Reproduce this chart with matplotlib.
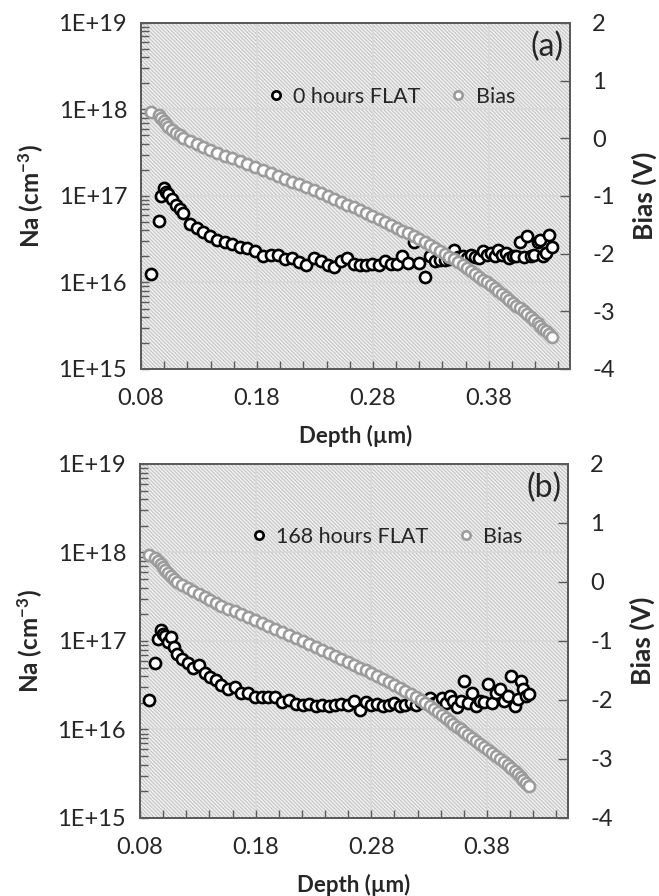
import matplotlib
matplotlib.use('Agg')
import matplotlib.pyplot as plt
from matplotlib.patches import Rectangle
from matplotlib.lines import Line2D
from matplotlib.ticker import MultipleLocator, LogLocator, NullFormatter

plt.rcParams['font.family'] = ['Lato', 'DejaVu Sans']
plt.rcParams['mathtext.fontset'] = 'custom'
plt.rcParams['mathtext.rm'] = 'Lato:bold'
plt.rcParams['mathtext.default'] = 'rm'
plt.rcParams['hatch.linewidth'] = 0.75

# bias steps (V), same sweep for both samples
bias_v = [0.45, 0.40, 0.35, 0.30, 0.25, 0.20, 0.15, 0.10, 0.05, 0.00,
          -0.05, -0.10, -0.15, -0.20, -0.25, -0.30, -0.35, -0.40, -0.45, -0.50,
          -0.55, -0.60, -0.65, -0.70, -0.75, -0.80, -0.85, -0.90, -0.95, -1.00,
          -1.05, -1.10, -1.15, -1.20, -1.25, -1.30, -1.35, -1.40, -1.45, -1.50,
          -1.55, -1.60, -1.65, -1.70, -1.75, -1.80, -1.85, -1.90, -1.95, -2.00,
          -2.05, -2.10, -2.15, -2.20, -2.25, -2.30, -2.35, -2.40, -2.45, -2.50,
          -2.55, -2.60, -2.65, -2.70, -2.75, -2.80, -2.85, -2.90, -2.95, -3.00,
          -3.05, -3.10, -3.15, -3.20, -3.25, -3.30, -3.35, -3.40, -3.45]

# (a) 0 hours
depth_a = [0.0890, 0.0958, 0.0972, 0.1000, 0.1018, 0.1033, 0.1066, 0.1099, 0.1132, 0.1165,
           0.1223, 0.1280, 0.1338, 0.1395, 0.1459, 0.1523, 0.1586, 0.1650, 0.1718, 0.1785,
           0.1853, 0.1920, 0.1981, 0.2043, 0.2104, 0.2165, 0.2226, 0.2288, 0.2349, 0.2410,
           0.2466, 0.2523, 0.2579, 0.2635, 0.2689, 0.2743, 0.2796, 0.2850, 0.2901, 0.2953,
           0.3004, 0.3055, 0.3104, 0.3153, 0.3201, 0.3250, 0.3293, 0.3335, 0.3378, 0.3420,
           0.3459, 0.3498, 0.3536, 0.3575, 0.3610, 0.3645, 0.3680, 0.3715, 0.3749, 0.3783,
           0.3816, 0.3850, 0.3881, 0.3913, 0.3944, 0.3975, 0.4006, 0.4038, 0.4069, 0.4100,
           0.4130, 0.4160, 0.4190, 0.4220, 0.4245, 0.4270, 0.4295, 0.4320, 0.4345]
na_a = [1.26e16, 5.1e16, 9.9e16, 1.23e17, 1.10e17, 1.05e17, 9.3e16, 7.8e16, 7.0e16, 6.3e16,
        4.8e16, 4.3e16, 3.8e16, 3.4e16, 3.1e16, 2.9e16, 2.75e16, 2.6e16, 2.5e16, 2.3e16,
        2.0e16, 2.1e16, 2.05e16, 1.86e16, 1.9e16, 1.74e16, 1.6e16, 1.9e16, 1.75e16, 1.6e16,
        1.5e16, 1.75e16, 1.9e16, 1.65e16, 1.6e16, 1.6e16, 1.62e16, 1.6e16, 1.75e16, 1.65e16,
        1.62e16, 2.0e16, 1.7e16, 2.95e16, 1.7e16, 1.17e16, 2.0e16, 1.75e16, 1.8e16, 1.8e16,
        1.85e16, 2.4e16, 1.95e16, 2.0e16, 1.9e16, 2.1e16, 1.95e16, 1.9e16, 2.3e16, 2.05e16,
        2.2e16, 2.0e16, 2.4e16, 2.05e16, 2.2e16, 1.9e16, 2.0e16, 2.0e16, 2.95e16, 1.95e16,
        3.4e16, 2.0e16, 2.1e16, 2.95e16, 3.1e16, 2.0e16, 2.2e16, 3.55e16, 2.6e16]

# (b) 168 hours
depth_b = [0.0880, 0.0930, 0.0958, 0.0985, 0.1000, 0.1015, 0.1041, 0.1067, 0.1092, 0.1118,
           0.1166, 0.1214, 0.1262, 0.1310, 0.1358, 0.1405, 0.1453, 0.1500, 0.1559, 0.1618,
           0.1676, 0.1735, 0.1794, 0.1853, 0.1911, 0.1970, 0.2029, 0.2088, 0.2146, 0.2205,
           0.2261, 0.2318, 0.2374, 0.2430, 0.2485, 0.2540, 0.2595, 0.2650, 0.2700, 0.2750,
           0.2800, 0.2850, 0.2900, 0.2950, 0.3000, 0.3050, 0.3095, 0.3140, 0.3185, 0.3230,
           0.3268, 0.3305, 0.3343, 0.3380, 0.3413, 0.3445, 0.3478, 0.3510, 0.3541, 0.3573,
           0.3604, 0.3635, 0.3669, 0.3703, 0.3736, 0.3770, 0.3805, 0.3840, 0.3875, 0.3910,
           0.3944, 0.3978, 0.4011, 0.4045, 0.4068, 0.4091, 0.4114, 0.4137, 0.4160]
na_b = [2.14e16, 5.6e16, 1.06e17, 1.32e17, 1.2e17, 1.15e17, 9.8e16, 1.1e17, 8.5e16, 7.2e16,
        6.3e16, 5.6e16, 4.9e16, 5.3e16, 4.3e16, 3.9e16, 3.6e16, 3.2e16, 2.9e16, 3.0e16,
        2.6e16, 2.55e16, 2.35e16, 2.3e16, 2.3e16, 2.35e16, 2.05e16, 2.14e16, 1.95e16, 1.9e16,
        1.95e16, 1.85e16, 1.9e16, 1.85e16, 1.9e16, 1.95e16, 1.9e16, 2.1e16, 1.66e16, 2.05e16,
        1.9e16, 1.95e16, 1.85e16, 1.9e16, 2.0e16, 1.85e16, 1.9e16, 2.0e16, 1.9e16, 2.05e16,
        2.0e16, 2.25e16, 2.0e16, 2.1e16, 2.25e16, 2.0e16, 2.4e16, 2.1e16, 1.8e16, 2.1e16,
        3.5e16, 2.0e16, 2.6e16, 1.86e16, 2.1e16, 2.05e16, 3.3e16, 2.0e16, 2.6e16, 2.9e16,
        2.1e16, 2.4e16, 4.0e16, 1.86e16, 2.2e16, 3.5e16, 2.9e16, 2.4e16, 2.5e16]

x_ticks = [0.08, 0.18, 0.28, 0.38]
x_labels = ['0.08', '0.18', '0.28', '0.38']
na_ticks = [1e15, 1e16, 1e17, 1e18, 1e19]
na_labels = ['1E+15', '1E+16', '1E+17', '1E+18', '1E+19']
v_ticks = [-4, -3, -2, -1, 0, 1, 2]
v_labels = ['-4', '-3', '-2', '-1', '0', '1', '2']

TXT = '#262626'
SPINE = '#5a5a5a'
GRAY = '#9c9c9c'


def draw_panel(rect, depth, na, bias, name, tag, leg_xy):
    ax = fig.add_axes(rect)
    ax.set_facecolor('none')
    ax.add_patch(Rectangle((0, 0), 1, 1, transform=ax.transAxes, facecolor='#efefef',
                           edgecolor='#c4c4c4', hatch='\\' * 9, lw=0, zorder=0))
    ax.set_yscale('log')
    ax.set_xlim(0.08, 0.45)
    ax.set_ylim(1e15, 1e19)
    ax.grid(True, which='major', color='#d9d9d9', lw=1.3)
    ax.set_axisbelow(True)

    ax.plot(depth, na, 'o', ms=8, mfc='white', mec='black', mew=1.9, zorder=3)

    ax.set_xticks(x_ticks)
    ax.set_xticklabels(x_labels)
    ax.xaxis.set_minor_locator(MultipleLocator(0.02))
    ax.set_yticks(na_ticks)
    ax.set_yticklabels(na_labels)
    ax.yaxis.set_minor_locator(LogLocator(base=10, subs=range(2, 10)))
    ax.yaxis.set_minor_formatter(NullFormatter())
    ax.tick_params(which='both', direction='in', top=False, right=False,
                   color=SPINE, labelcolor=TXT, labelsize=17, length=6, width=1)
    ax.tick_params(axis='y', which='both', pad=10)
    ax.tick_params(axis='x', which='both', pad=14)
    ax.set_xlabel('Depth (\u00b5m)', fontsize=16, fontweight='bold', color=TXT, labelpad=11)
    ax.set_ylabel('Na (cm$^{-3}$)', fontsize=17.5, fontweight='bold', color=TXT, labelpad=9)
    for s in ax.spines.values():
        s.set_color(SPINE)
        s.set_linewidth(1.3)

    ax2 = ax.twinx()
    ax2.set_ylim(-4, 2)
    ax2.plot(depth, bias, 'o', ms=8, mfc='white', mec=GRAY, mew=1.9, zorder=3)
    ax2.set_yticks(v_ticks)
    ax2.set_yticklabels(v_labels)
    ax2.tick_params(direction='in', length=7, width=1, color=SPINE, labelcolor=TXT,
                    labelsize=17, pad=16)
    ax2.set_ylabel('Bias (V)', fontsize=19, fontweight='bold', color=TXT, labelpad=12)
    for s in ax2.spines.values():
        s.set_color(SPINE)
        s.set_linewidth(1.3)

    handles = [Line2D([], [], ls='none', marker='o', ms=6, mfc='white', mec='black', mew=1.9),
               Line2D([], [], ls='none', marker='o', ms=6, mfc='white', mec=GRAY, mew=1.9)]
    ax2.legend(handles, [name, 'Bias'], ncol=2, frameon=False, loc='center',
               bbox_to_anchor=leg_xy, fontsize=15.5, handletextpad=0.4,
               columnspacing=1.35, handlelength=0.8, labelcolor=TXT)
    ax2.text(0.985, 0.975, tag, transform=ax2.transAxes, ha='right', va='top',
             fontsize=23, color=TXT)
    return ax, ax2


fig = plt.figure(figsize=(6.59, 8.96), dpi=100)
draw_panel([0.2140, 0.5882, 0.6510, 0.3862], depth_a, na_a, bias_v,
           '0 hours FLAT', '(a)', (0.583, 0.786))
draw_panel([0.2124, 0.0871, 0.6495, 0.3951], depth_b, na_b, bias_v,
           '168 hours FLAT', '(b)', (0.576, 0.794))

fig.savefig('out.png', dpi=100)
